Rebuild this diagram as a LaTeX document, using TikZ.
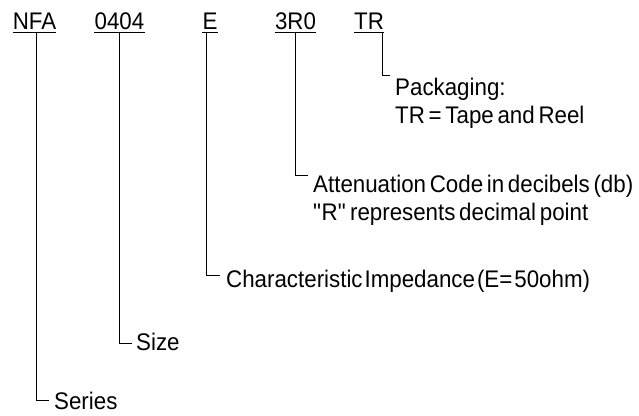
\documentclass[tikz,border=0pt]{standalone}
\usepackage{fontspec}
\setmainfont{Liberation Sans}[WordSpace=0.6, FakeStretch=0.93]
\usetikzlibrary{positioning}

\tikzset{
  code/.style={inner xsep=0pt, inner ysep=2.5pt, text depth=0pt, anchor=base},
  desc/.style={inner sep=0pt, anchor=north west, align=left},
  lead/.style={line width=0.8pt},
}

\begin{document}
\begin{tikzpicture}[x=1pt, y=-1pt, font=\fontsize{24}{28}\selectfont]
\useasboundingbox (0,0) rectangle (639,415);
% part number fields
\node[code] (nfa) at (34.5,29.5) {NFA};
\node[code] (sz) at (119.5,29.5) {0404};
\node[code] (imp) at (210,29.5) {E};
\node[code] (att) at (295.5,29.5) {3R0};
\node[code] (tr) at (369,29.5) {TR};
\foreach \f in {nfa,sz,imp,att,tr}
  \draw[lead] (\f.south west) -- (\f.south east);
% meanings
\node[desc] (pack) at (395,77.5) {Packaging:\\TR = Tape and Reel};
\node[desc] (atten) at (313,174.5) {Attenuation Code in decibels (db)\\\textquotedbl R\textquotedbl{} represents decimal point};
\node[desc, font={\fontsize{24}{28}\selectfont\spaceskip=2pt}] (charimp) at (226,269.5) {Characteristic Impedance (E= 50ohm)};
\node[desc] (size) at (136,332.5) {Size};
\node[desc] (series) at (54,392) {Series};
% leaders
\draw[lead] ([xshift=-2pt]tr.south east) |- ([xshift=-5pt,yshift=2.5pt]pack.north west);
\draw[lead] (att.south) |- ([xshift=-5pt,yshift=-0.5pt]atten.north west);
\draw[lead] ([xshift=-4pt]imp.south) |- ([xshift=-6pt,yshift=-5.5pt]charimp.north west);
\draw[lead] (sz.south) |- ([xshift=-4pt,yshift=-10.5pt]size.north west);
\draw[lead] ([xshift=1.5pt]nfa.south) |- ([xshift=-5pt,yshift=-8pt]series.north west);
\end{tikzpicture}
\end{document}
